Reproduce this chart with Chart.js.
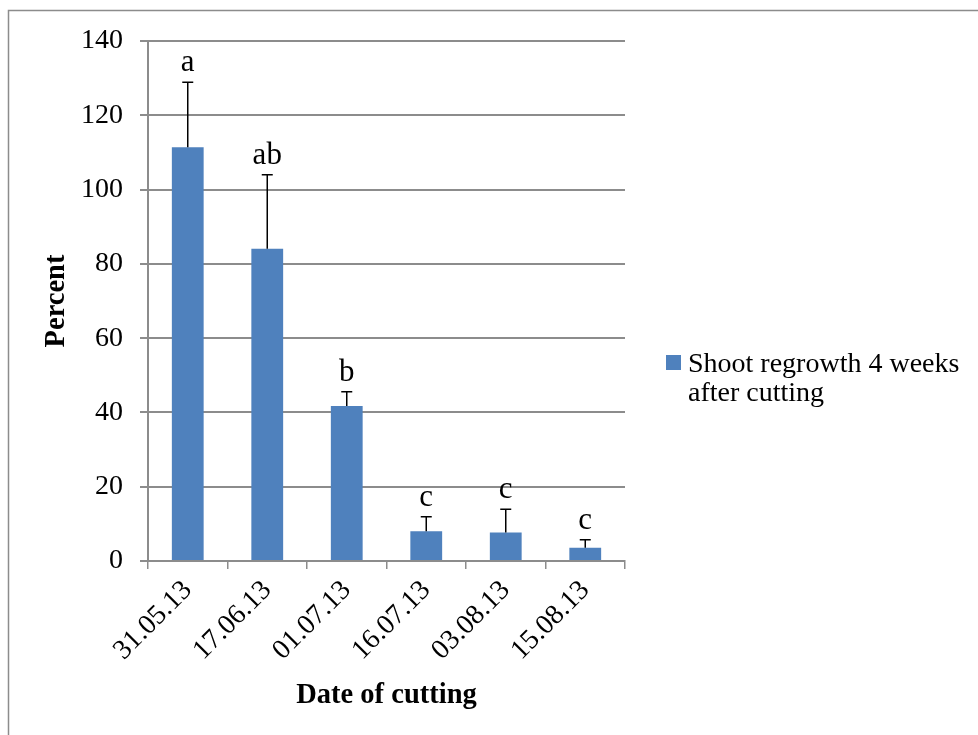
<!DOCTYPE html>
<html>
<head>
<meta charset="utf-8">
<script src="https://cdn.jsdelivr.net/npm/chart.js@4.4.0/dist/chart.umd.min.js"></script>
<style>
  html, body { margin: 0; padding: 0; background: #fff; }
  #wrap { width: 978px; height: 735px; position: relative; }
</style>
</head>
<body>
<div id="wrap"><canvas id="c" width="978" height="735"></canvas></div>
<script>
const categories = ["31.05.13", "17.06.13", "01.07.13", "16.07.13", "03.08.13", "15.08.13"];
const regrowth = [111.4, 84.1, 41.7, 8.0, 7.7, 3.6];
const errorUp = [17.5, 19.9, 3.9, 3.9, 6.2, 2.1];
const letters = ["a", "ab", "b", "c", "c", "c"];
const yTicks = [0, 20, 40, 60, 80, 100, 120, 140];
const seriesName = ["Shoot regrowth 4 weeks", "after cutting"];

const FONT = "'Liberation Serif', 'Times New Roman', serif";
const BAR = '#4f81bd';
const GRID = '#8c8c8c';

const framePlugin = {
  id: 'frame',
  beforeDraw(chart) {
    const ctx = chart.ctx;
    ctx.save();
    ctx.fillStyle = '#fff';
    ctx.fillRect(0, 0, chart.width, chart.height);
    ctx.strokeStyle = GRID;
    ctx.lineWidth = 1.5;
    ctx.strokeRect(8.5, 10.5, 1200, 1200);
    ctx.restore();
  }
};

const errorPlugin = {
  id: 'errs',
  afterDatasetsDraw(chart) {
    const ctx = chart.ctx;
    const meta = chart.getDatasetMeta(0);
    const ys = chart.scales.y;
    ctx.save();
    meta.data.forEach((bar, i) => {
      const x = bar.x;
      const yTop = ys.getPixelForValue(regrowth[i] + errorUp[i]);
      const yBar = bar.y;
      ctx.strokeStyle = '#000';
      ctx.lineWidth = 1.5;
      ctx.beginPath();
      ctx.moveTo(x, yBar);
      ctx.lineTo(x, yTop);
      ctx.moveTo(x - 5.5, yTop);
      ctx.lineTo(x + 5.5, yTop);
      ctx.stroke();
      ctx.fillStyle = '#000';
      ctx.font = "31px " + FONT;
      ctx.textAlign = 'center';
      ctx.textBaseline = 'alphabetic';
      ctx.fillText(letters[i], x, yTop - 11);
    });
    ctx.restore();
  }
};

const legendPlugin = {
  id: 'legendBox',
  afterDraw(chart) {
    const ctx = chart.ctx;
    ctx.save();
    ctx.fillStyle = BAR;
    ctx.fillRect(666, 355, 15, 15);
    ctx.fillStyle = '#000';
    ctx.font = "28px " + FONT;
    ctx.textAlign = 'left';
    ctx.textBaseline = 'alphabetic';
    ctx.fillText(seriesName[0], 688, 372);
    ctx.fillText(seriesName[1], 688, 401);
    ctx.restore();
  }
};

new Chart(document.getElementById('c'), {
  type: 'bar',
  data: {
    labels: categories,
    datasets: [{
      label: seriesName.join(' '),
      data: regrowth,
      backgroundColor: BAR,
      borderWidth: 0,
      categoryPercentage: 1.0,
      barPercentage: 0.4
    }]
  },
  options: {
    responsive: false,
    animation: false,
    devicePixelRatio: 1,
    layout: { padding: { left: 0, right: 353, top: 41, bottom: 0 } },
    plugins: {
      legend: { display: false },
      tooltip: { enabled: false }
    },
    scales: {
      x: {
        offset: true,
        grid: { display: true, drawOnChartArea: false, drawTicks: true, tickLength: 8, color: GRID, lineWidth: 1.5, offset: true },
        border: { display: true, color: GRID, width: 2 },
        ticks: {
          autoSkip: false, maxRotation: 45, minRotation: 45,
          color: '#000', font: { family: FONT, size: 28 }, padding: 5
        },
        title: {
          display: true, text: 'Date of cutting', color: '#000',
          font: { family: FONT, size: 28.5, weight: 'bold' },
          padding: { top: 0, bottom: 22 }
        },
        afterFit(s) { s.height = 174; }
      },
      y: {
        min: 0, max: 140,
        afterBuildTicks(s) { s.ticks = yTicks.map(v => ({ value: v })); },
        grid: { color: GRID, lineWidth: 2, tickLength: 8, drawTicks: true },
        border: { display: true, color: GRID, width: 2 },
        ticks: {
          color: '#000', font: { family: FONT, size: 28 }, padding: 17
        },
        title: {
          display: true, text: 'Percent', color: '#000',
          font: { family: FONT, size: 28.5, weight: 'bold' },
          padding: { top: 40, bottom: 0 }
        },
        afterFit(s) { s.width = 148; }
      }
    }
  },
  plugins: [framePlugin, errorPlugin, legendPlugin]
});
</script>
</body>
</html>
